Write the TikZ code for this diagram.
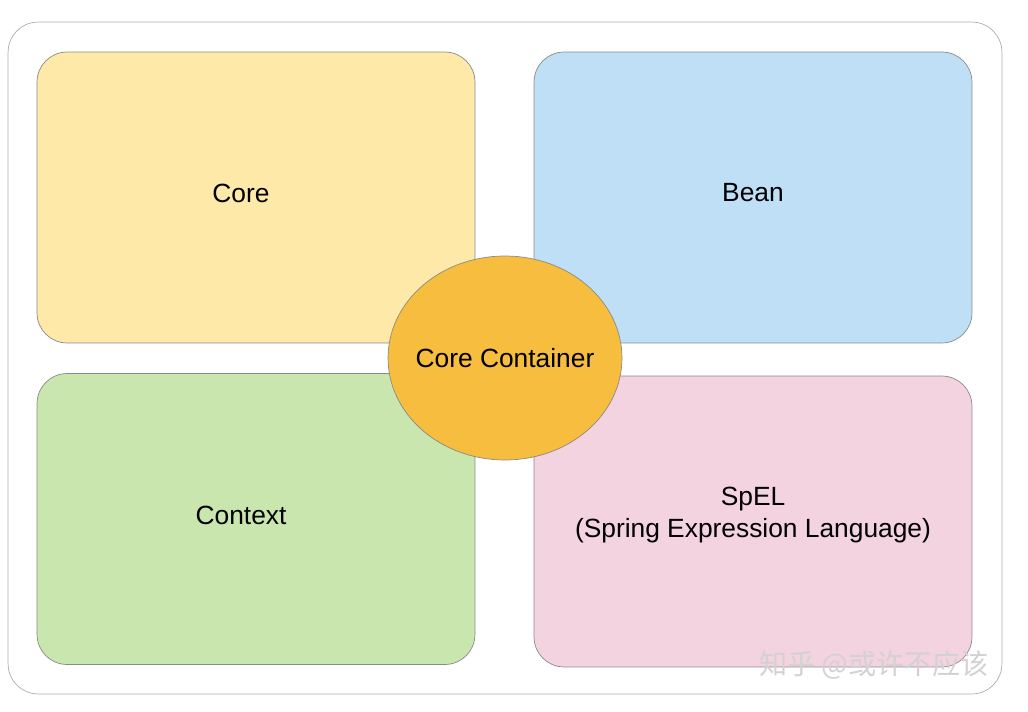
\documentclass[tikz,border=0pt]{standalone}
\usepackage{fontspec}
\setmainfont{Liberation Sans}
\newfontfamily\cjk{Noto Sans CJK SC}
\usetikzlibrary{shapes.geometric}
\definecolor{coreY}{HTML}{FFE9A8}
\definecolor{beanB}{HTML}{BFDFF7}
\definecolor{ctxG}{HTML}{C9E6AE}
\definecolor{spelP}{HTML}{F4D3E0}
\definecolor{hubO}{HTML}{F7BD3F}
\definecolor{edgeG}{HTML}{8A8A8A}
\begin{document}
\begin{tikzpicture}
  [x=0.02cm,y=-0.02cm,
   lbl/.style={font=\fontsize{15}{18}\selectfont,align=center},
   box/.style={draw=edgeG,rounded corners=0.6cm,minimum width=8.76cm,minimum height=5.82cm,inner sep=0pt},
   hub/.style={ellipse,draw=edgeG,fill=hubO,minimum width=4.68cm,minimum height=4.08cm,inner xsep=-0.3cm,inner ysep=0pt,lbl}]
  \useasboundingbox (0,0) rectangle (1028,712);
  \node[draw=edgeG!70,rounded corners=0.6cm,minimum width=19.88cm,minimum height=13.44cm] (frame) at (505,358) {};
  \node[box,fill=coreY] (core) at (256,197.5) {};
  \node[lbl] (corelabel) at (241,193) {Core};
  \node[box,fill=beanB] (bean) at (753,197.5) {};
  \node[lbl] (beanlabel) at (753,193) {Bean};
  \node[box,fill=ctxG] (context) at (256,519) {};
  \node[lbl] (contextlabel) at (241,515) {Context};
  \node[box,fill=spelP] (spel) at (753,521.5) {};
  \node[lbl] (spellabel) at (753,515) {SpEL\\(Spring Expression Language)};
  \node[hub] (container) at (505,358) {Core Container};
  \node[text=gray!35,font=\cjk\fontsize{16}{18}\selectfont] (mark) at (874,665) {知乎 @或许不应该};
\end{tikzpicture}
\end{document}
